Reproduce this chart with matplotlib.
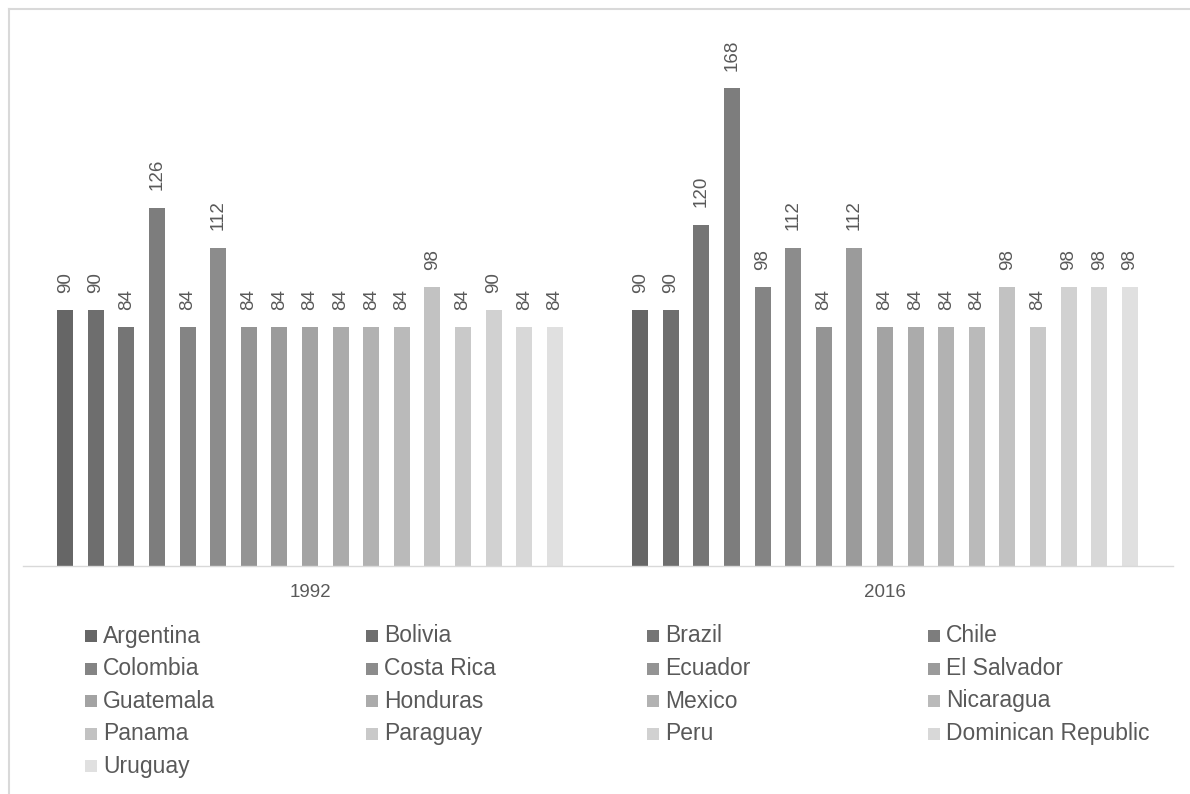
import matplotlib
matplotlib.use("Agg")
import matplotlib.pyplot as plt
from matplotlib.lines import Line2D
from matplotlib.patches import Rectangle
import numpy as np

plt.rcParams['font.family'] = ['Liberation Sans', 'DejaVu Sans']

countries = ["Argentina", "Bolivia", "Brazil", "Chile", "Colombia", "Costa Rica",
             "Ecuador", "El Salvador", "Guatemala", "Honduras", "Mexico", "Nicaragua",
             "Panama", "Paraguay", "Peru", "Dominican Republic", "Uruguay"]
years = ["1992", "2016"]
values_1992 = [90, 90, 84, 126, 84, 112, 84, 84, 84, 84, 84, 84, 98, 84, 90, 84, 84]
values_2016 = [90, 90, 120, 168, 98, 112, 84, 112, 84, 84, 84, 84, 98, 84, 98, 98, 98]

W, H = 1190, 794
fig = plt.figure(figsize=(W / 100, H / 100), dpi=100)
ax = fig.add_axes([22.5 / W, 1 - 566 / H, 1150 / W, 546 / H])

n = len(countries)
step = 30.6 / 575
width = 16 / 575
grey_lo, grey_hi = 0x66, 0xe0
colors = []
for i in range(n):
    g = int(round(grey_lo + (grey_hi - grey_lo) * i / (n - 1)))
    colors.append('#%02x%02x%02x' % (g, g, g))

txt = '#595959'
for i, c in enumerate(countries):
    xs = np.arange(len(years)) + (i - (n - 1) / 2) * step
    vals = [values_1992[i], values_2016[i]]
    ax.bar(xs, vals, width=width, color=colors[i], label=c)
    for x, v in zip(xs, vals):
        ax.annotate(str(v), (x, v), xytext=(0, 12.5), textcoords='offset points',
                    rotation=90, ha='center', va='bottom', fontsize=13.5, color=txt)

ax.set_xlim(-0.5, 1.5)
ax.set_ylim(0, 192)
ax.set_yticks([])
ax.set_xticks(range(len(years)))
ax.set_xticklabels(years, fontsize=13.5, color=txt)
ax.tick_params(axis='x', length=0, pad=13)
for s in ['left', 'right', 'top']:
    ax.spines[s].set_visible(False)
ax.spines['bottom'].set_color('#d9d9d9')
ax.spines['bottom'].set_linewidth(1)

# legend, row-major, 4 columns
ncol = 4
x0, xpitch = 85, 281
y0, ypitch = 636, 32.5
sq = 12
for i, c in enumerate(countries):
    r, k = divmod(i, ncol)
    px = x0 + k * xpitch
    py = y0 + r * ypitch
    fig.add_artist(Rectangle((px / W, 1 - (py + sq / 2) / H), sq / W, sq / H,
                             facecolor=colors[i], edgecolor='none',
                             transform=fig.transFigure))
    fig.text((px + 18) / W, 1 - py / H, c, fontsize=16.5, color=txt,
             ha='left', va='center')

# outer frame
fig.add_artist(Line2D([9 / W, 9 / W], [0, 1 - 9 / H], color='#d9d9d9', lw=1.5, transform=fig.transFigure))
fig.add_artist(Line2D([9 / W, 1], [1 - 9 / H, 1 - 9 / H], color='#d9d9d9', lw=1.5, transform=fig.transFigure))

fig.savefig('out.png', dpi=100)
